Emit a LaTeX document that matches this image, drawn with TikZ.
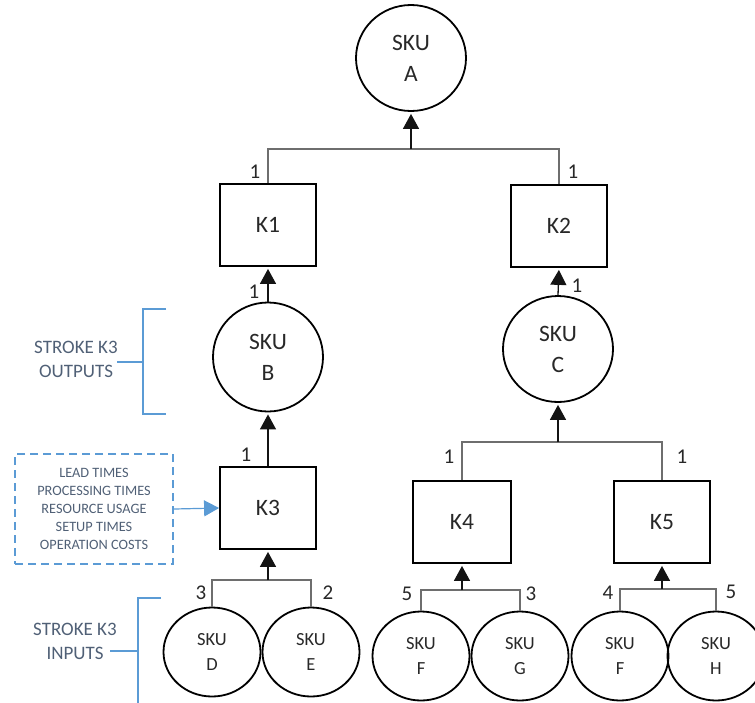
\documentclass[tikz,border=0pt]{standalone}
\usepackage{fontspec}
\setmainfont{Carlito}
\usetikzlibrary{arrows.meta,shapes.geometric}
\definecolor{txt}{RGB}{40,40,40}
\definecolor{annot}{RGB}{80,96,118}
\definecolor{blu}{RGB}{91,155,213}
\definecolor{conn}{RGB}{20,20,20}
\definecolor{busc}{RGB}{110,110,110}
\begin{document}
\begin{tikzpicture}[x=1pt,y=-1pt,
  bigsku/.style={ellipse,draw=black,line width=1.8pt,minimum width=110pt,minimum height=106pt,inner sep=0pt,
    align=center,text=txt,font=\fontsize{23.5}{31}\selectfont},
  smallsku/.style={ellipse,draw=black,line width=1.8pt,minimum width=97pt,minimum height=89pt,inner sep=0pt,
    align=center,text=txt,font=\fontsize{18.5}{24.5}\selectfont},
  kbox/.style={rectangle,draw=black,line width=1.8pt,minimum width=96pt,minimum height=82pt,inner sep=0pt,
    text=txt,font=\fontsize{23.5}{26}\selectfont},
  qty/.style={inner sep=0pt,text=txt,font=\fontsize{21}{22}\selectfont},
  bus/.style={draw=busc,line width=1.3pt},
  up/.style={draw=conn,line width=1.3pt,shorten >=2pt,-{Triangle[width=16pt,length=15pt]}},
  annottext/.style={inner sep=0pt,align=center,text=annot,font=\fontsize{19}{24}\selectfont},
  bracket/.style={draw=blu,line width=1.1pt},
  infobox/.style={rectangle,draw=blu,line width=2.4pt,dash pattern=on 8pt off 5pt,minimum width=158pt,minimum height=110pt,
    inner sep=0pt,align=center,text=annot,font=\fontsize{14.3}{18}\selectfont},
]
\useasboundingbox (0,0) rectangle (755,702);

% main nodes
\node[bigsku] (A) at (411,58) {SKU\\A};
\node[kbox] (K1) at (268,225) {K1};
\node[kbox] (K2) at (559,226) {K2};
\node[bigsku,minimum height=109pt] (B) at (268,357) {SKU\\B};
\node[bigsku] (C) at (558,349) {SKU\\C};
\node[kbox] (K3) at (268,508) {K3};
\node[kbox,minimum width=98pt] (K4) at (462,522) {K4};
\node[kbox] (K5) at (662,522) {K5};
\node[smallsku] (D) at (212,652) {SKU\\D};
\node[smallsku] (E) at (311,652) {SKU\\E};
\node[smallsku] (F) at (421,656) {SKU\\F};
\node[smallsku] (G) at (520,656) {SKU\\G};
\node[smallsku] (F2) at (620,656) {SKU\\F};
\node[smallsku] (H) at (716,656) {SKU\\H};

% bus coordinates
\coordinate (busA) at (411,149);
\coordinate (busC) at (558,442);
\coordinate (busK3) at (268,580);
\coordinate (busK4) at (462,590);
\coordinate (busK5) at (662,589);

% connectors
\draw[bus] (K1.north) |- (busA) -| (K2.north);
\draw[up] (busA) -- (A.south);
\draw[up] (B.north) -- (K1.south);
\draw[up] (C.north) -- (K2.south);
\draw[up] (K3.north) -- (B.south);
\draw[bus] (K4.north) |- (busC) -| (K5.north);
\draw[up] (busC) -- (C.south);
\draw[bus] (D.north) |- (busK3) -| (E.north);
\draw[up] (busK3) -- (K3.south);
\draw[bus] (F.north) |- (busK4) -| (G.north);
\draw[up] (busK4) -- (K4.south);
\draw[bus] (F2.north) |- (busK5) -| (H.north);
\draw[up] (busK5) -- (K5.south);

% quantities
\node[qty] (q1) at (255,172) {1};
\node[qty] (q2) at (573,172) {1};
\node[qty] (q3) at (254,292) {1};
\node[qty] (q4) at (577,286) {1};
\node[qty] (q5) at (246,455) {1};
\node[qty] (q6) at (449,457) {1};
\node[qty] (q7) at (682,457) {1};
\node[qty] (q8) at (201,593) {3};
\node[qty] (q9) at (328,593) {2};
\node[qty] (q10) at (407,594) {5};
\node[qty] (q11) at (531,594) {3};
\node[qty] (q12) at (608,593) {4};
\node[qty] (q13) at (731,592) {5};

% annotations
\node[annottext] (outtxt) at (76,359) {STROKE K3\\OUTPUTS};
\coordinate (outmid) at (143,362);
\draw[bracket] (166,309) -- (143,309) -- (143,414) -- (166,414);
\draw[bracket] (117,362) -- (outmid);

\node[annottext] (intxt) at (75,641) {STROKE K3\\INPUTS};
\coordinate (inmid) at (138,651);
\draw[bracket] (161,598) -- (138,598) -- (138,710);
\draw[bracket] (110,651) -- (inmid);

\node[infobox] (info) at (94,509) {LEAD TIMES\\PROCESSING TIMES\\RESOURCE USAGE\\SETUP TIMES\\OPERATION COSTS};
\draw[blu,line width=1.2pt,-{Triangle[width=16pt,length=15pt]}] (info.east) -- (K3.west);
\end{tikzpicture}
\end{document}
